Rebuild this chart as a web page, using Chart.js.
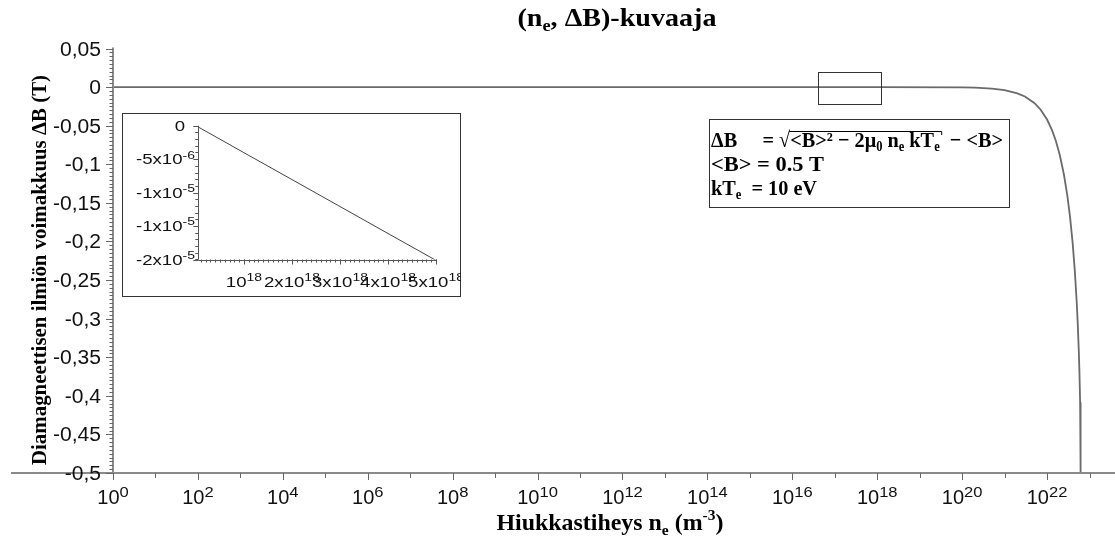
<!DOCTYPE html>
<html><head><meta charset="utf-8">
<script src="https://cdn.jsdelivr.net/npm/chart.js@4"></script>
<style>
html,body{margin:0;padding:0;background:#fff;}
#wrap{position:relative;width:1115px;height:540px;overflow:hidden;}
#main{position:absolute;left:0;top:0;}
#inset{position:absolute;left:122px;top:113px;}
</style></head><body>
<div id="wrap">
<canvas id="main" width="1115" height="540"></canvas>
<canvas id="inset" width="339" height="184"></canvas>
</div>
<script>
// ---------------- data ----------------
const densityValues = [1, 1e18, 1e20, 2e20, 5e20, 1e21, 2e21, 3e21, 5e21, 7e21, 1e22, 1.3e22, 1.6e22, 2e22, 2.5e22, 3e22, 3.5e22, 4e22, 4.5e22, 5e22, 5.3e22, 5.6e22, 5.8e22, 6e22, 6.1e22, 6.15e22, 6.19e22, 6.2085e22];
const deltaBValues  = [0, -0.000004, -0.000403, -0.000806, -0.002017, -0.00404, -0.00812, -0.01223, -0.02056, -0.02903, -0.04203, -0.05542, -0.06922, -0.08834, -0.11357, -0.14056, -0.16975, -0.20179, -0.23771, -0.2794, -0.30874, -0.34347, -0.37175, -0.40838, -0.43391, -0.45147, -0.47272, -0.5];

const insetDensityValues = [5e16, 1e18, 2e18, 3e18, 4e18, 5e18];
const insetDeltaBValues  = [-2.0e-7, -4.03e-6, -8.05e-6, -1.208e-5, -1.611e-5, -2.013e-5];

const xTickValues = [1, 1e2, 1e4, 1e6, 1e8, 1e10, 1e12, 1e14, 1e16, 1e18, 1e20, 1e22];
const xTickLabels = ['10^0','10^2','10^4','10^6','10^8','10^10','10^12','10^14','10^16','10^18','10^20','10^22'];
const xMinorTickValues = [1e1, 1e3, 1e5, 1e7, 1e9, 1e11, 1e13, 1e15, 1e17, 1e19, 1e21, 1e23];
const yTickValues = [0.05, 0, -0.05, -0.1, -0.15, -0.2, -0.25, -0.3, -0.35, -0.4, -0.45, -0.5];
const yTickLabels = ['0,05','0','-0,05','-0,1','-0,15','-0,2','-0,25','-0,3','-0,35','-0,4','-0,45','-0,5'];

const insetXTickValues = [1e18, 2e18, 3e18, 4e18, 5e18];
const insetXTickLabels = ['10^18','2x10^18','3x10^18','4x10^18','5x10^18'];
const insetYTickValues = [0, -5e-6, -1e-5, -1.5e-5, -2e-5];
const insetYTickLabels = ['0','-5x10^-6','-1x10^-5','-1x10^-5','-2x10^-5'];

const zoomBoxX = [4e16, 1.2e18];
const zoomBoxY = [0.02, -0.022];

const titleText = [['(n',0],['e',-1],[', ΔB)-kuvaaja',0]];
const xTitleText = [['Hiukkastiheys n',0],['e',-1],[' (m',0],['-3',1],[')',0]];
const yTitleText = [['Diamagneettisen ilmiön voimakkuus ΔB (T)',0]];

// ---------------- helpers ----------------
const SANS = '"Liberation Sans", Arial, sans-serif';
const SERIF = '"Liberation Serif", "Times New Roman", serif';

function parseSup(s){ const i = s.indexOf('^'); return i < 0 ? [[s,0]] : [[s.slice(0,i),0],[s.slice(i+1),1]]; }

function drawRich(ctx, parts, x, y, o){
  const items = []; let w = 0;
  for (const [t,m] of parts){
    const sz = m === 0 ? o.size : o.size*(o.small||0.65);
    const font = `${o.weight||'normal'} ${sz}px ${o.family}`;
    ctx.font = font;
    const hs = m === 0 ? 1 : (o.smallH||1);
    const tw = ctx.measureText(t).width*hs;
    const dy = m === 1 ? -o.size*(o.rise||0.38) : (m === -1 ? o.size*(o.drop||0.2) : 0);
    items.push({t,font,x:w,dy,w:tw,hs});
    w += tw;
  }
  let hs = o.hscale || 1;
  if (o.width) hs = o.width / w;
  const total = w*hs;
  const x0 = o.align === 'center' ? x - total/2 : (o.align === 'right' ? x - total : x);
  ctx.save();
  ctx.translate(x0, y);
  ctx.scale(hs, 1);
  ctx.fillStyle = o.color || '#000';
  ctx.textAlign = 'left';
  ctx.textBaseline = 'alphabetic';
  for (const it of items){
    ctx.font = it.font;
    ctx.save(); ctx.translate(it.x, it.dy); ctx.scale(it.hs,1); ctx.fillText(it.t,0,0); ctx.restore();
  }
  ctx.restore();
  return items.map(it => ({x: x0 + it.x*hs, w: it.w*hs}));
}

function hline(ctx,x1,x2,y){ctx.beginPath();ctx.moveTo(x1,y);ctx.lineTo(x2,y);ctx.stroke();}
function vline(ctx,x,y1,y2){ctx.beginPath();ctx.moveTo(x,y1);ctx.lineTo(x,y2);ctx.stroke();}

// ---------------- main chart ----------------
const mainDecor = {
  id: 'mainDecor',
  beforeDraw(chart){
    const c = chart.ctx; c.save(); c.fillStyle = '#fff'; c.fillRect(0,0,chart.width,chart.height); c.restore();
  },
  afterDraw(chart){
    const ctx = chart.ctx, ca = chart.chartArea, xs = chart.scales.x, ys = chart.scales.y;
    ctx.save();
    // zoom rectangle
    const rx0 = Math.round(xs.getPixelForValue(zoomBoxX[0]))+0.5, rx1 = Math.round(xs.getPixelForValue(zoomBoxX[1]))+0.5;
    const ry0 = Math.round(ys.getPixelForValue(zoomBoxY[0]))+0.5, ry1 = Math.round(ys.getPixelForValue(zoomBoxY[1]))+0.5;
    ctx.strokeStyle = '#333'; ctx.lineWidth = 1;
    ctx.strokeRect(rx0, ry0, rx1-rx0, ry1-ry0);

    // axes lines
    ctx.strokeStyle = '#8a8a8a'; ctx.lineWidth = 2;
    vline(ctx, ca.left, ca.top-1, ca.bottom);
    hline(ctx, 11, chart.width, ca.bottom);

    // y ticks
    ctx.strokeStyle = '#666'; ctx.lineWidth = 1;
    for (let k = -100; k <= 10; k++){
      const py = Math.round(ys.getPixelForValue(k*0.005))+0.5;
      hline(ctx, ca.left-3.5, ca.left, py);
    }
    yTickValues.forEach(v => { const py = Math.round(ys.getPixelForValue(v))+0.5; hline(ctx, ca.left-7, ca.left, py); });
    yTickValues.forEach((v,i) => {
      const py = ys.getPixelForValue(v);
      drawRich(ctx, parseSup(yTickLabels[i]), 101, py+7, {size:19.5, family:SANS, align:'right', hscale:1.08, color:'#111'});
    });

    // x ticks
    ctx.strokeStyle = '#666'; ctx.lineWidth = 1;
    xTickValues.forEach(v => { const px = Math.round(xs.getPixelForValue(v))+0.5; vline(ctx, px, ca.bottom, ca.bottom+7); });
    xMinorTickValues.forEach(v => { const px = Math.round(xs.getPixelForValue(v))+0.5; vline(ctx, px, ca.bottom, ca.bottom+5); });
    xTickValues.forEach((v,i) => {
      const px = xs.getPixelForValue(v);
      drawRich(ctx, parseSup(xTickLabels[i]), px, 504, {size:20, family:SANS, align:'center', small:0.72, smallH:1.15, rise:0.36, color:'#111'});
    });

    // titles
    drawRich(ctx, titleText, 617, 26, {size:26, family:SERIF, weight:'bold', align:'center', width:199, small:0.65, drop:0.2});
    drawRich(ctx, xTitleText, 610, 530, {size:24, family:SERIF, weight:'bold', align:'center', width:227, small:0.65, rise:0.4});
    ctx.save(); ctx.translate(46, 270); ctx.rotate(-Math.PI/2);
    drawRich(ctx, yTitleText, 0, 0, {size:22, family:SERIF, weight:'bold', align:'center', width:390});
    ctx.restore();

    // annotation box
    ctx.fillStyle = '#fff'; ctx.fillRect(709.5,119.5,300,88);
    ctx.strokeStyle = '#333'; ctx.lineWidth = 1; ctx.strokeRect(709.5,119.5,300,88);
    const o = {size:22, family:SERIF, weight:'bold', small:0.62, drop:0.18, color:'#000'};
    const row1 = [['ΔB',0],['     = ',0],['√',0],['<B>² − 2μ',0],['0',-1],[' n',0],['e',-1],[' kT',0],['e',-1],['  − <B>',0]];
    const pos = drawRich(ctx, row1, 711, 147, Object.assign({width:292, align:'left'}, o));
    // radical overline
    const ox0 = pos[2].x + pos[2].w - 1, ox1 = pos[8].x + pos[8].w + 2;
    ctx.strokeStyle = '#000'; ctx.lineWidth = 1;
    ctx.beginPath(); ctx.moveTo(ox0, 131.5); ctx.lineTo(ox1, 131.5); ctx.lineTo(ox1, 135); ctx.stroke();
    drawRich(ctx, [['<B> = 0.5 T',0]], 711, 171, Object.assign({width:113, align:'left'}, o));
    drawRich(ctx, [['kT',0],['e',-1],['  = 10 eV',0]], 711, 195, Object.assign({width:106, align:'left'}, o));
    ctx.restore();
  }
};

new Chart(document.getElementById('main'), {
  type: 'scatter',
  data: { datasets: [{
    data: densityValues.map((v,i) => ({x:v, y:deltaBValues[i]})),
    showLine: true, pointRadius: 0, borderColor: '#6a6a6a', borderWidth: 1.8, tension: 0, fill: false
  }]},
  options: {
    responsive: false, animation: false, devicePixelRatio: 1, events: [],
    layout: { padding: { left: 113, right: 0, top: 48.5, bottom: 67 } },
    plugins: { legend: {display:false}, tooltip: {enabled:false}, title: {display:false} },
    scales: {
      x: { type:'logarithmic', min:1, max:3.98e23, bounds:'data',
           ticks:{display:false}, grid:{display:false, drawTicks:false}, border:{display:false},
           afterFit(s){ s.height = 0; } },
      y: { type:'linear', min:-0.5, max:0.05, bounds:'data',
           ticks:{display:false}, grid:{display:false, drawTicks:false}, border:{display:false},
           afterFit(s){ s.width = 0; } }
    }
  },
  plugins: [mainDecor]
});

// ---------------- inset chart ----------------
const insetDecor = {
  id: 'insetDecor',
  beforeDraw(chart){
    const c = chart.ctx; c.save(); c.fillStyle = '#fff'; c.fillRect(0,0,chart.width,chart.height); c.restore();
  },
  afterDraw(chart){
    const ctx = chart.ctx, ca = chart.chartArea, xs = chart.scales.x, ys = chart.scales.y;
    ctx.save();
    ctx.strokeStyle = '#333'; ctx.lineWidth = 1;
    ctx.strokeRect(0.5, 0.5, chart.width-1, chart.height-1);
    ctx.strokeStyle = '#555';
    vline(ctx, Math.round(ca.left)+0.5, ca.top, ca.bottom);
    hline(ctx, ca.left, ca.right+1, Math.round(ca.bottom)+0.5);
    for (let k = 0; k <= 20; k++){
      const py = Math.round(ys.getPixelForValue(-k*1e-6))+0.5;
      hline(ctx, ca.left-3, ca.left, py);
    }
    insetYTickValues.forEach(v => { const py = Math.round(ys.getPixelForValue(v))+0.5; hline(ctx, ca.left-5, ca.left, py); });
    for (let k = 1; k <= 50; k++){
      const px = Math.round(xs.getPixelForValue(k*1e17))+0.5;
      vline(ctx, px, ca.bottom, ca.bottom+3);
    }
    insetXTickValues.forEach(v => { const px = Math.round(xs.getPixelForValue(v))+0.5; vline(ctx, px, ca.bottom, ca.bottom+5); });
    const lo = {size:14, family:SANS, small:0.75, smallH:1.0, rise:0.4, hscale:1.33, color:'#111'};
    insetYTickValues.forEach((v,i) => {
      const py = ys.getPixelForValue(v);
      const parts = parseSup(insetYTickLabels[i]);
      drawRich(ctx, parts, parts.length > 1 ? 73 : 63, py+5, Object.assign({align:'right'}, lo));
    });
    insetXTickValues.forEach((v,i) => {
      const px = xs.getPixelForValue(v);
      drawRich(ctx, parseSup(insetXTickLabels[i]), px, 174, Object.assign({align:'center'}, lo));
    });
    ctx.restore();
  }
};

new Chart(document.getElementById('inset'), {
  type: 'scatter',
  data: { datasets: [{
    data: insetDensityValues.map((v,i) => ({x:v, y:insetDeltaBValues[i]})),
    showLine: true, pointRadius: 0, borderColor: '#444', borderWidth: 1, tension: 0, fill: false
  }]},
  options: {
    responsive: false, animation: false, devicePixelRatio: 1, events: [],
    layout: { padding: { left: 76.3, right: 25, top: 12.7, bottom: 37.5 } },
    plugins: { legend: {display:false}, tooltip: {enabled:false} },
    scales: {
      x: { type:'linear', min:5e16, max:5e18, bounds:'data',
           ticks:{display:false}, grid:{display:false, drawTicks:false}, border:{display:false},
           afterFit(s){ s.height = 0; } },
      y: { type:'linear', min:-2e-5, max:0, bounds:'data',
           ticks:{display:false}, grid:{display:false, drawTicks:false}, border:{display:false},
           afterFit(s){ s.width = 0; } }
    }
  },
  plugins: [insetDecor]
});
</script>
</body></html>
